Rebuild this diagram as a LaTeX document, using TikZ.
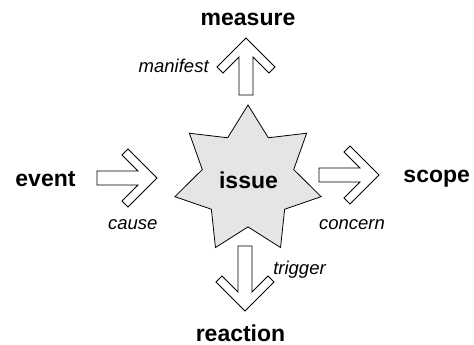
\documentclass[tikz,border=0pt]{standalone}
\usepackage{fontspec}
\setmainfont{Liberation Sans}
\usetikzlibrary{shapes.geometric}

% block arrow pointing along +x, tip at the origin
\newcommand{\fatarrow}[1]{(0,0) -- (-29,-29) -- (-35,-23) -- (-19,-7) -- (-#1,-7) -- (-#1,7) -- (-19,7) -- (-35,23) -- (-29,29) -- cycle}

\begin{document}
\begin{tikzpicture}[x=1pt,y=1pt,
    term/.style={font=\fontsize{23}{27}\selectfont\bfseries, anchor=base, inner sep=0pt},
    rel/.style={font=\fontsize{18.5}{22}\selectfont\itshape, anchor=base, inner sep=0pt},
    blockarrow/.style={draw=black, line width=0.8pt, fill=white, line join=miter}]
    \useasboundingbox (0,0) rectangle (474,345);

    % Issue
    \node [star, star points=7, star point ratio=1.6, minimum size=150pt,
        draw, line width=0.8pt, fill=gray!20] (issue) at (248,165) {};
    \node [term] (issuetext) at (248.5,156.7) {issue};

    % Arrows
    \begin{scope}[shift={(246,307)}, rotate=90]
        \draw [blockarrow] \fatarrow{57};
    \end{scope}
    \begin{scope}[shift={(157,167)}]
        \draw [blockarrow] \fatarrow{60};
    \end{scope}
    \begin{scope}[shift={(379,170)}]
        \draw [blockarrow] \fatarrow{60};
    \end{scope}
    \begin{scope}[shift={(245,34)}, rotate=-90]
        \draw [blockarrow] \fatarrow{65};
    \end{scope}

    % Terms
    \node [term] (measure) at (248,319) {measure};
    \node [term] (event) at (45.5,158.3) {event};
    \node [term] (scope) at (436.7,162.3) {scope};
    \node [term] (reaction) at (240.5,3.5) {reaction};

    % Relations
    \node [rel] (manifest) at (173.7,272) {manifest};
    \node [rel] (cause) at (132.8,115) {cause};
    \node [rel] (concern) at (352,115) {concern};
    \node [rel] (trigger) at (299.5,70.7) {trigger};
\end{tikzpicture}
\end{document}
